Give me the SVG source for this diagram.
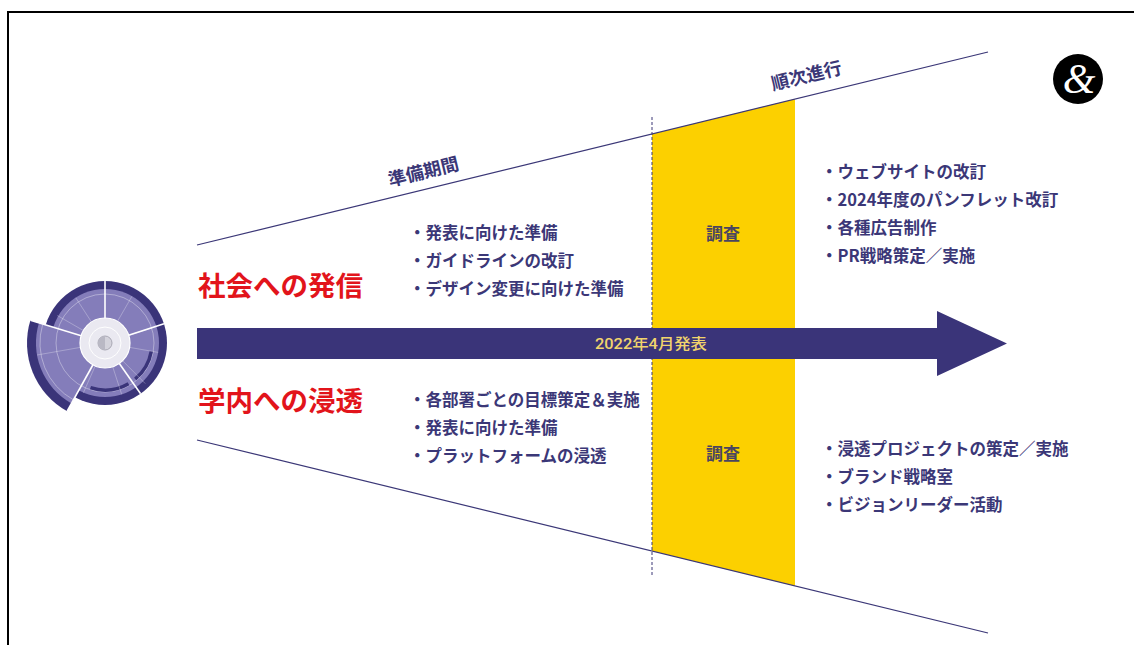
<svg xmlns="http://www.w3.org/2000/svg" width="1134" height="645" viewBox="0 0 1134 645">
  <defs>
    <style>
      .jp { font-family: "Noto Sans CJK JP", "Noto Sans", sans-serif; }
      .item { font-size: 16.5px; fill: #3b3777; font-weight: 700; }
      .phase { font-size: 18px; fill: #3b3777; font-weight: 700; }
      .survey { font-size: 17px; fill: #4a4560; font-weight: 700; text-anchor: middle; }
      .head { font-size: 27.5px; fill: #e2141b; font-weight: 700; }
      .guide { stroke: #3b3777; stroke-width: 1.2; fill: none; }
      .div { stroke: #ffffff; stroke-width: 1.6; }
      .sub { stroke: #ffffff; stroke-opacity: 0.4; stroke-width: 0.7; }
    </style>
  </defs>

  <rect width="1134" height="645" fill="#ffffff"/>

  <!-- page frame (open at right and bottom) -->
  <path d="M8,645 V12 H1134" fill="none" stroke="#000000" stroke-width="2"/>

  <!-- research band -->
  <g id="research-band">
    <polygon points="652,134 795,99 795,586 652,551" fill="#fcd000"/>
    <text class="jp survey" x="723" y="239.5">調査</text>
    <text class="jp survey" x="723" y="459.5">調査</text>
  </g>

  <!-- funnel guides and milestone marker -->
  <g id="connectors">
    <line class="guide" x1="197" y1="245" x2="988" y2="52"/>
    <line class="guide" x1="197" y1="440" x2="988" y2="633"/>
    <line x1="652" y1="117" x2="652" y2="575" stroke="#3b3777" stroke-width="1" stroke-dasharray="3 2"/>
  </g>

  <!-- phase labels along the upper guide -->
  <g id="phase-labels">
    <text class="jp phase" text-anchor="middle" transform="translate(425,178) rotate(-13.7)">準備期間</text>
    <text class="jp phase" text-anchor="middle" transform="translate(808,82) rotate(-13.7)">順次進行</text>
  </g>

  <!-- timeline arrow -->
  <g id="timeline-arrow">
    <polygon points="197,328 937,328 937,311 1007,343.5 937,376 937,359 197,359" fill="#3a3479"/>
    <text x="651" y="348.5" text-anchor="middle" font-family="Roboto, 'Noto Sans CJK JP', sans-serif" font-size="15" font-weight="500" fill="#f1d46c" textLength="112" lengthAdjust="spacingAndGlyphs">2022年4月発表</text>
  </g>

  <!-- section headings -->
  <g id="heading-external">
    <text class="jp head" x="198" y="296">社会への発信</text>
  </g>
  <g id="heading-internal">
    <text class="jp head" x="198" y="411">学内への浸透</text>
  </g>

  <!-- preparation items -->
  <g id="prep-external" class="jp item">
    <text x="409" y="239">・発表に向けた準備</text>
    <text x="409" y="267">・ガイドラインの改訂</text>
    <text x="409" y="295">・デザイン変更に向けた準備</text>
  </g>
  <g id="prep-internal" class="jp item">
    <text x="409" y="406">・各部署ごとの目標策定＆実施</text>
    <text x="409" y="434">・発表に向けた準備</text>
    <text x="409" y="462">・プラットフォームの浸透</text>
  </g>

  <!-- rollout items -->
  <g id="rollout-external" class="jp item">
    <text x="821" y="178">・ウェブサイトの改訂</text>
    <text x="821" y="206">・2024年度のパンフレット改訂</text>
    <text x="821" y="234">・各種広告制作</text>
    <text x="821" y="262">・PR戦略策定／実施</text>
  </g>
  <g id="rollout-internal" class="jp item">
    <text x="821" y="455">・浸透プロジェクトの策定／実施</text>
    <text x="821" y="483">・ブランド戦略室</text>
    <text x="821" y="511">・ビジョンリーダー活動</text>
  </g>

  <!-- circular brand emblem -->
  <g id="emblem">
    <circle cx="105" cy="343" r="62" fill="#3a3479"/>
    <path d="M105,343 L30.4,320.2 A78,78 0 0 0 67.2,411.2 Z" fill="#3a3479"/>
    <circle cx="105" cy="343" r="54" fill="#847dba"/>
    <path d="M105,343 L39,322.8 A69,69 0 0 0 71.5,403.4 Z" fill="#847dba"/>
    <circle cx="105" cy="343" r="49" fill="none" stroke="#ffffff" stroke-opacity="0.45" stroke-width="0.8"/>
    <path d="M42.7,324.3 A65,65 0 0 0 73.5,399.9" fill="none" stroke="#ffffff" stroke-opacity="0.45" stroke-width="0.8"/>
    <!-- darker blocks inside the lower segments -->
    <path d="M151.3,351.2 A47,47 0 0 1 135.2,379" fill="none" stroke="#3a3479" stroke-width="3.5"/>
    <path d="M128.5,383.7 A47,47 0 0 1 90.5,387.7" fill="none" stroke="#3a3479" stroke-width="3.5"/>
    <!-- sub dividers -->
    <g class="sub">
      <line x1="117" y1="322.2" x2="132" y2="296.2"/>
      <line x1="127.6" y1="335.8" x2="156.3" y2="326.5"/>
      <line x1="128.6" y1="347.2" x2="158.2" y2="352.4"/>
      <line x1="121.9" y1="360" x2="145.3" y2="383.6"/>
      <line x1="112.4" y1="365.8" x2="121.7" y2="394.4"/>
      <line x1="95.6" y1="365.1" x2="83.4" y2="392.7"/>
      <line x1="81.4" y1="347.2" x2="37.1" y2="355"/>
      <line x1="84.2" y1="331" x2="57.3" y2="315.5"/>
      <line x1="92" y1="322.8" x2="75.8" y2="297.8"/>
    </g>
    <!-- main dividers -->
    <g class="div">
      <line x1="105" y1="319" x2="105" y2="281"/>
      <line x1="127.8" y1="335.6" x2="164" y2="323.8"/>
      <line x1="118.8" y1="362.7" x2="140.6" y2="393.8"/>
      <line x1="93.4" y1="364" x2="67.2" y2="411.2"/>
      <line x1="82" y1="336" x2="30.4" y2="320.2"/>
    </g>
    <circle cx="105" cy="343" r="25" fill="#eae9f1" stroke="#ffffff" stroke-width="1.2"/>
    <circle cx="105" cy="343" r="16" fill="none" stroke="#ffffff" stroke-width="1"/>
    <circle cx="105" cy="343" r="7" fill="#d4d3dc" stroke="#a9a8b4" stroke-width="1"/>
    <path d="M105,336 A7,7 0 0 0 105,350 Z" fill="#b9b8c4"/>
  </g>

  <!-- ampersand mark -->
  <g id="ampersand-mark">
    <circle cx="1078" cy="79" r="25" fill="#000000"/>
    <text x="1079" y="93" text-anchor="middle" font-family="'Liberation Serif', serif" font-style="italic" font-size="42" fill="#ffffff">&amp;</text>
  </g>
</svg>
